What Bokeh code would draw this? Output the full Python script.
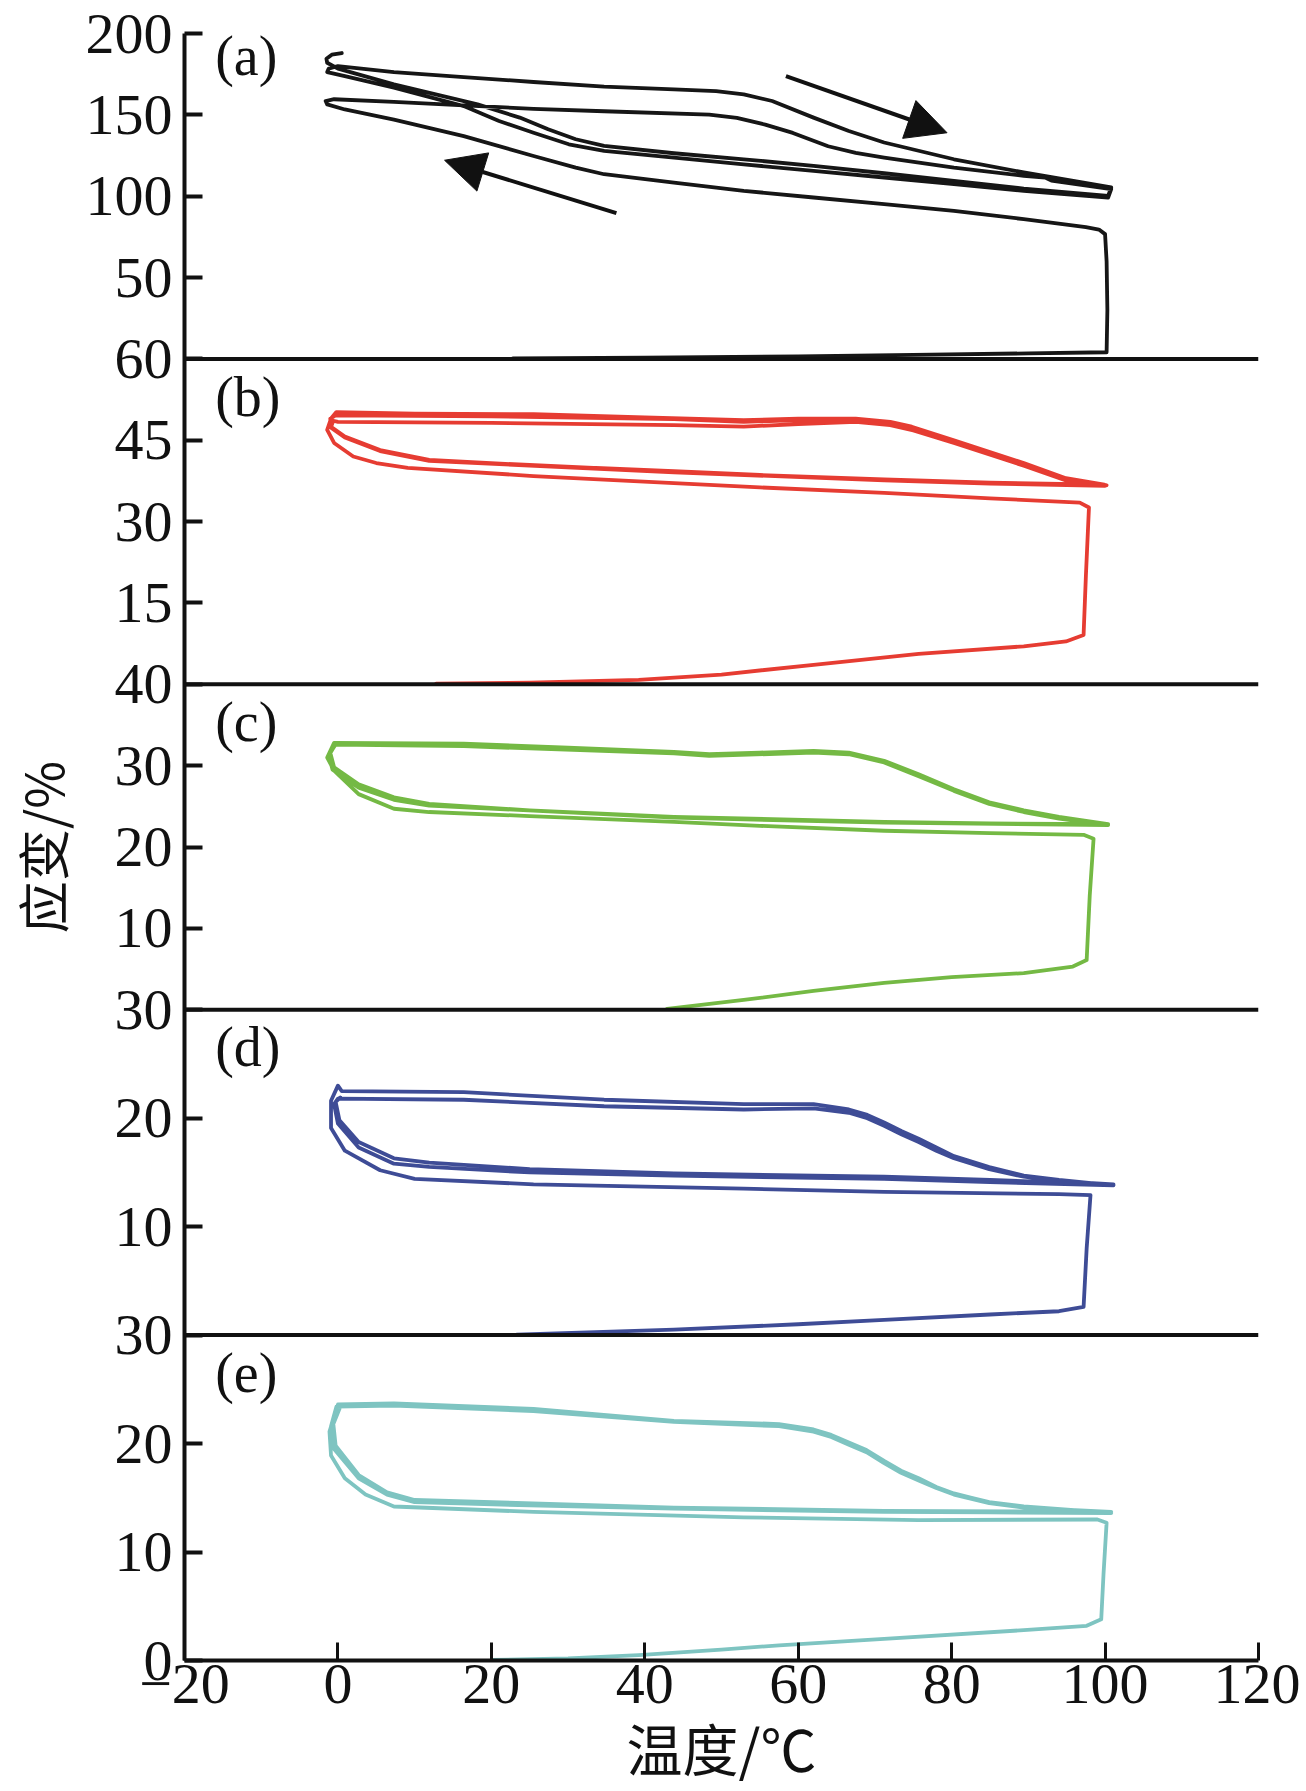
import math
from bokeh.plotting import figure
from bokeh.models import Range1d, FixedTicker, Span, Label, Arrow, NormalHead
from bokeh.embed import file_html
from bokeh.resources import INLINE

# ---------------- data ----------------
panel_names = ["a", "b", "c", "d", "e"]
panel_tops = [200, 60, 40, 30, 30]
panel_ticks = [[50, 100, 150, 200], [15, 30, 45, 60], [10, 20, 30, 40], [10, 20, 30], [0, 10, 20, 30]]
panel_colors = ["#161616", "#e63c32", "#74b944", "#3e4c96", "#7ec4c1"]
x_ticks = [-20, 0, 20, 40, 60, 80, 100, 120]

a_temp = [22.8, 40, 60, 75, 90, 100.2, 100.3, 100.2, 100.0, 99.2, 97.5,
          89.4, 80.3, 71.2, 62, 52.9, 43.8, 34.7, 31, 25.5, 16.4, 7.3, 0.9, -1.4, -1.6, -0.5,
          7.3, 16.4, 25.5, 34.7, 48.4, 52, 55.7, 59.3, 63.9, 67.5, 71.2, 80.3, 89.4, 92.2, 93.0, 100.8,
          100.4, 89.4, 80.3, 71.2, 62, 52.9, 43.8, 34.7, 30.1, 25.5, 21, 16.4, 7.3, 0.9, -1.4, -1.2, 0,
          7.3, 16.4, 25.5, 34.7, 43.8, 49.3, 52.9, 56.6, 62, 66.6, 71.2, 80.3, 89.4, 100.8,
          100.4, 89.4, 80.3, 71.2, 62, 52.9, 43.8, 34.7, 31, 27.4, 23.7, 18.2, 7.3, 0, -1.4, -1.5, -0.8, 0.5]
a_strain = [0.3, 0.8, 1.6, 2.5, 3.4, 4.1, 30, 60, 76.7, 79.5, 81,
            85.9, 91, 95.1, 99.2, 103.3, 108.4, 113.5, 117.6, 124.7, 136.9, 147.1, 153.3, 156.4, 158.5, 159.6,
            158, 155.8, 153.7, 152.2, 150.2, 148.1, 144, 138.9, 130.7, 126.6, 123.7, 117.5, 112.5, 111.4, 109.6, 104.4,
            99.2, 103.3, 107.4, 111.5, 115.5, 119.6, 123.7, 127.8, 131.9, 139, 146.2, 155.4, 166.7, 173.8, 176.3, 178.4, 180,
            176.3, 173.2, 170.2, 167.3, 165.6, 164.6, 162.6, 158.5, 148.3, 140.1, 133, 122.7, 114.6, 105.4,
            100.2, 104.7, 109.4, 114.1, 118.6, 122.7, 126.4, 130.9, 135, 141.1, 148.3, 156.4, 168.7, 178.4, 182, 184.5, 187, 188]

b_temp = [12.8, 25, 39.2, 50, 62, 75.7, 89.4, 94.9, 97.2, 97.5, 97.9, 96.7,
          85, 71.2, 55, 43.8, 25.5, 9.1, 5, 2, -0.5, -1.4, -0.9, -0.2,
          10, 25.5, 40, 52.9, 60, 67.5, 72, 74.8, 80.3, 89.4, 94.9, 99.9,
          85, 71.2, 55, 43.8, 25, 11.9, 5.5, 0.9, -0.9, -0.6, 0,
          20, 43.8, 52.9, 60, 67.5, 72, 75, 80.3, 89.4, 94.9, 100,
          85, 71.2, 43.8, 11.9, 5.5, 0.9, -0.9, -1.0, -0.3,
          20, 43.8, 52.9, 60, 67.5, 72, 75, 80.3, 89.4, 94.9, 100.2,
          85, 71.2, 43.8, 11.9, 5.5, 0.9, -0.9, -0.8]
b_strain = [0.1, 0.3, 0.8, 1.8, 3.6, 5.6, 7.0, 7.9, 9.1, 20, 32.6, 33.5,
            34.3, 35.3, 36.3, 37.1, 38.4, 39.9, 40.8, 42, 44.5, 46.9, 49, 50.2,
            49.9, 49.8, 49.2, 48.7, 49.0, 49.0, 48.4, 47.5, 45, 40.8, 38, 36.8,
            37.2, 37.8, 38.6, 39.3, 40.4, 41.4, 43.2, 45.7, 47.5, 48.6, 48.4,
            48.2, 47.8, 47.5, 48.0, 48.4, 47.8, 46.8, 44.5, 40.3, 37.6, 36.6,
            37.0, 37.6, 39.1, 41.2, 43.0, 45.5, 47.3, 49.0, 49.6,
            49.4, 48.9, 48.4, 48.7, 48.8, 48.2, 47.2, 44.8, 40.6, 37.8, 36.7,
            37.1, 37.7, 39.2, 41.3, 43.1, 45.6, 47.4, 48.6]

c_temp = [42.9, 52.9, 62, 71.2, 80, 89.4, 95.8, 97.6, 98, 98.5, 97.2,
          85, 71.2, 55, 43.8, 25, 11.9, 7.3, 2.7, -0.5, -1.4, -0.5,
          16.4, 30, 43.8, 48.4, 55, 62, 66.6, 71.2, 75.7, 80.3, 84.9, 89.4, 94, 100.4,
          85, 71.2, 43.8, 25, 11.9, 7.3, 2.7, -0.5, -1, -0.3,
          16.4, 43.8, 48.4, 62, 66.6, 71.2, 75.7, 80.3, 84.9, 89.4, 94, 100.4,
          71.2, 43.8, 11.9, 7.3, 2.7, -0.7, -1.2, -0.4]
c_strain = [0.1, 1.2, 2.3, 3.3, 4.0, 4.5, 5.3, 6.1, 14, 21, 21.5,
            21.7, 22.0, 22.6, 23.1, 23.8, 24.3, 24.7, 26.5, 29.4, 31, 32.8,
            32.7, 32.2, 31.7, 31.4, 31.6, 31.8, 31.6, 30.6, 28.95, 27.1, 25.5, 24.5, 23.7, 22.8,
            22.9, 23.1, 23.7, 24.5, 25.3, 26.1, 27.7, 29.8, 31.6, 32.6,
            32.4, 31.5, 31.2, 31.6, 31.4, 30.4, 28.7, 26.9, 25.3, 24.3, 23.5, 22.7,
            23.0, 23.6, 25.1, 25.8, 27.3, 29.5, 31.2, 32.5]

d_temp = [23.3, 43.8, 60, 71.2, 85, 94, 97.2, 97.6, 98.1, 94, 71.2, 52.9, 25.5, 10, 5.5, 0.9, -0.9, -0.9, 0,
          0.5, 16.4, 34.7, 52.9, 62, 66.6, 69, 71.2, 73.5, 75.7, 78, 80.3, 84.9, 89.4, 94, 101.1,
          85, 71.2, 43.8, 25, 11.9, 7.3, 2.7, 0, -0.5, 0,
          16.4, 34.7, 52.9, 62, 66.6, 69, 71.2, 73.5, 75.7, 78, 80.3, 84.9, 89.4, 94, 101.1,
          85, 71.2, 43.8, 25, 11.9, 7.3, 2.7, 0.2, -0.3, 0.3]
d_strain = [0.05, 0.5, 1.0, 1.4, 1.9, 2.2, 2.6, 8, 12.9, 13.0, 13.2, 13.5, 13.9, 14.4, 15.2, 17, 19.1, 21.6, 23.0,
            22.5, 22.4, 21.7, 21.3, 21.3, 20.8, 20.3, 19.6, 18.8, 18.1, 17.3, 16.5, 15.5, 14.7, 14.3, 13.8,
            14.1, 14.4, 14.7, 15.0, 15.5, 15.8, 17.3, 19.5, 21.3, 21.8,
            21.7, 21.1, 20.8, 20.9, 20.5, 20.0, 19.3, 18.5, 17.8, 17.0, 16.3, 15.3, 14.6, 14.2, 13.9,
            14.3, 14.6, 14.9, 15.3, 15.9, 16.3, 17.8, 19.8, 21.5, 21.9]

e_temp = [20.1, 30, 39.2, 50, 57.5, 71.2, 89.4, 97.6, 99.5, 99.8, 100.2, 99, 75.7, 52.9, 25.5, 7.3, 3.6, 0.9, -0.9, -1.1, 0,
          7.3, 25.5, 43.8, 57.5, 62, 64.3, 66.6, 68.9, 71.2, 73.4, 75.7, 78, 80.3, 82.6, 84.9, 89.4, 100.8,
          85, 71.2, 43.8, 25, 10, 6.4, 2.7, -0.5, -0.9, -0.2,
          7.3, 25.5, 43.8, 57.5, 62, 64.3, 66.6, 68.9, 71.2, 73.4, 75.7, 78, 80.3, 82.6, 84.9, 89.4, 100.8,
          71.2, 43.8, 10, 6.4, 2.7, -0.3, -0.6, 0.2]
e_strain = [0.05, 0.2, 0.5, 1.0, 1.4, 2.0, 2.8, 3.2, 3.8, 8, 12.7, 13.0, 12.95, 13.2, 13.7, 14.2, 15.3, 16.8, 18.9, 21.1, 23.6,
            23.7, 23.2, 22.1, 21.8, 21.3, 20.8, 20.1, 19.4, 18.4, 17.5, 16.8, 16.0, 15.4, 15.0, 14.6, 14.2, 13.6,
            13.65, 13.7, 14.0, 14.3, 14.6, 15.3, 16.8, 19.5, 21.6, 23.4,
            23.5, 23.0, 22.0, 21.6, 21.1, 20.6, 19.9, 19.2, 18.2, 17.3, 16.6, 15.9, 15.3, 14.9, 14.5, 14.1, 13.7,
            13.8, 14.1, 14.8, 15.5, 17.1, 19.8, 21.8, 23.2]

# direction arrows in panel (a): heating (right) and cooling (left)
arrow_x_start = [58.4, 36.3]
arrow_y_start = [173.8, 89.6]
arrow_x_end = [79.4, 13.9]
arrow_y_end = [139.0, 122.1]

x_title = "温度/℃"
y_title = "应变/%"

# ---------------- figure ----------------
temps = [a_temp, b_temp, c_temp, d_temp, e_temp]
strains = [a_strain, b_strain, c_strain, d_strain, e_strain]
N = len(panel_names)
UNIT = 120  # height of one panel in the shared (layout) range

p = figure(width=1300, height=1791, output_backend="svg", toolbar_location=None,
           x_range=Range1d(-20, 120), y_range=Range1d(0, N * UNIT),
           min_border_left=181, min_border_right=42, min_border_top=33, min_border_bottom=131,
           background_fill_color="white", border_fill_color="white")
p.grid.visible = False
p.outline_line_color = None

extra = {}
for i, name in enumerate(panel_names):
    k = N - 1 - i
    top = panel_tops[i]
    extra[name] = Range1d(-k * top, (N - k) * top)
p.extra_y_ranges = extra

# y ticks: each panel's own values at its own position
tick_pos = []
overrides = {}
for i, name in enumerate(panel_names):
    k = N - 1 - i
    top = panel_tops[i]
    for v in panel_ticks[i]:
        pos = int(round(k * UNIT + v * UNIT / top))
        tick_pos.append(pos)
        overrides[pos] = str(v)

ya = p.yaxis[0]
ya.ticker = FixedTicker(ticks=sorted(tick_pos))
ya.major_label_overrides = overrides
ya.major_tick_in = 18
ya.major_tick_out = 0
ya.minor_tick_in = 0
ya.minor_tick_out = 0
ya.axis_line_width = 4
ya.axis_line_color = "#111111"
ya.major_tick_line_width = 4
ya.major_tick_line_color = "#111111"
ya.major_label_text_font = "Liberation Serif"
ya.major_label_text_font_size = "58px"
ya.major_label_text_color = "#111111"
ya.major_label_standoff = 12
ya.axis_label = y_title
ya.axis_label_text_font = "Noto Sans CJK SC"
ya.axis_label_text_font_size = "52px"
ya.axis_label_text_font_style = "normal"
ya.axis_label_text_color = "#111111"
ya.axis_label_standoff = 4

xa = p.xaxis[0]
xa.ticker = FixedTicker(ticks=x_ticks)
xa.major_tick_in = 18
xa.major_tick_out = 0
xa.minor_tick_in = 0
xa.minor_tick_out = 0
xa.axis_line_width = 4
xa.axis_line_color = "#111111"
xa.major_tick_line_width = 3
xa.major_tick_line_color = "#111111"
xa.major_label_text_font = "Liberation Serif"
xa.major_label_text_font_size = "58px"
xa.major_label_text_color = "#111111"
xa.major_label_standoff = 4
xa.axis_label = x_title
xa.axis_label_text_font = "Noto Sans CJK SC"
xa.axis_label_text_font_size = "56px"
xa.axis_label_text_font_style = "normal"
xa.axis_label_text_color = "#111111"
xa.axis_label_standoff = 0

# panel separators
for k in range(1, N):
    p.add_layout(Span(location=k * UNIT, dimension="width", line_color="#111111", line_width=4))

# curves
for i, name in enumerate(panel_names):
    p.line(temps[i], strains[i], y_range_name=name, line_color=panel_colors[i],
           line_width=3.8, line_join="round", line_cap="round")

# arrows in (a)
for j in range(len(arrow_x_start)):
    p.add_layout(Arrow(end=NormalHead(size=40, fill_color="#111111", line_color="#111111"),
                       x_start=arrow_x_start[j], y_start=arrow_y_start[j],
                       x_end=arrow_x_end[j], y_end=arrow_y_end[j],
                       y_range_name="a", line_width=4, line_color="#111111"))

# panel letters
for i, name in enumerate(panel_names):
    k = N - 1 - i
    ytop = (k + 1) * UNIT + (3 if i == 0 else -2.5)
    p.add_layout(Label(x=-16, y=ytop, text="(%s)" % name, text_font="Liberation Serif",
                       text_font_size="56px", text_baseline="top", text_align="left",
                       text_color="#111111"))

open("out.html", "w").write(file_html(p, INLINE))
